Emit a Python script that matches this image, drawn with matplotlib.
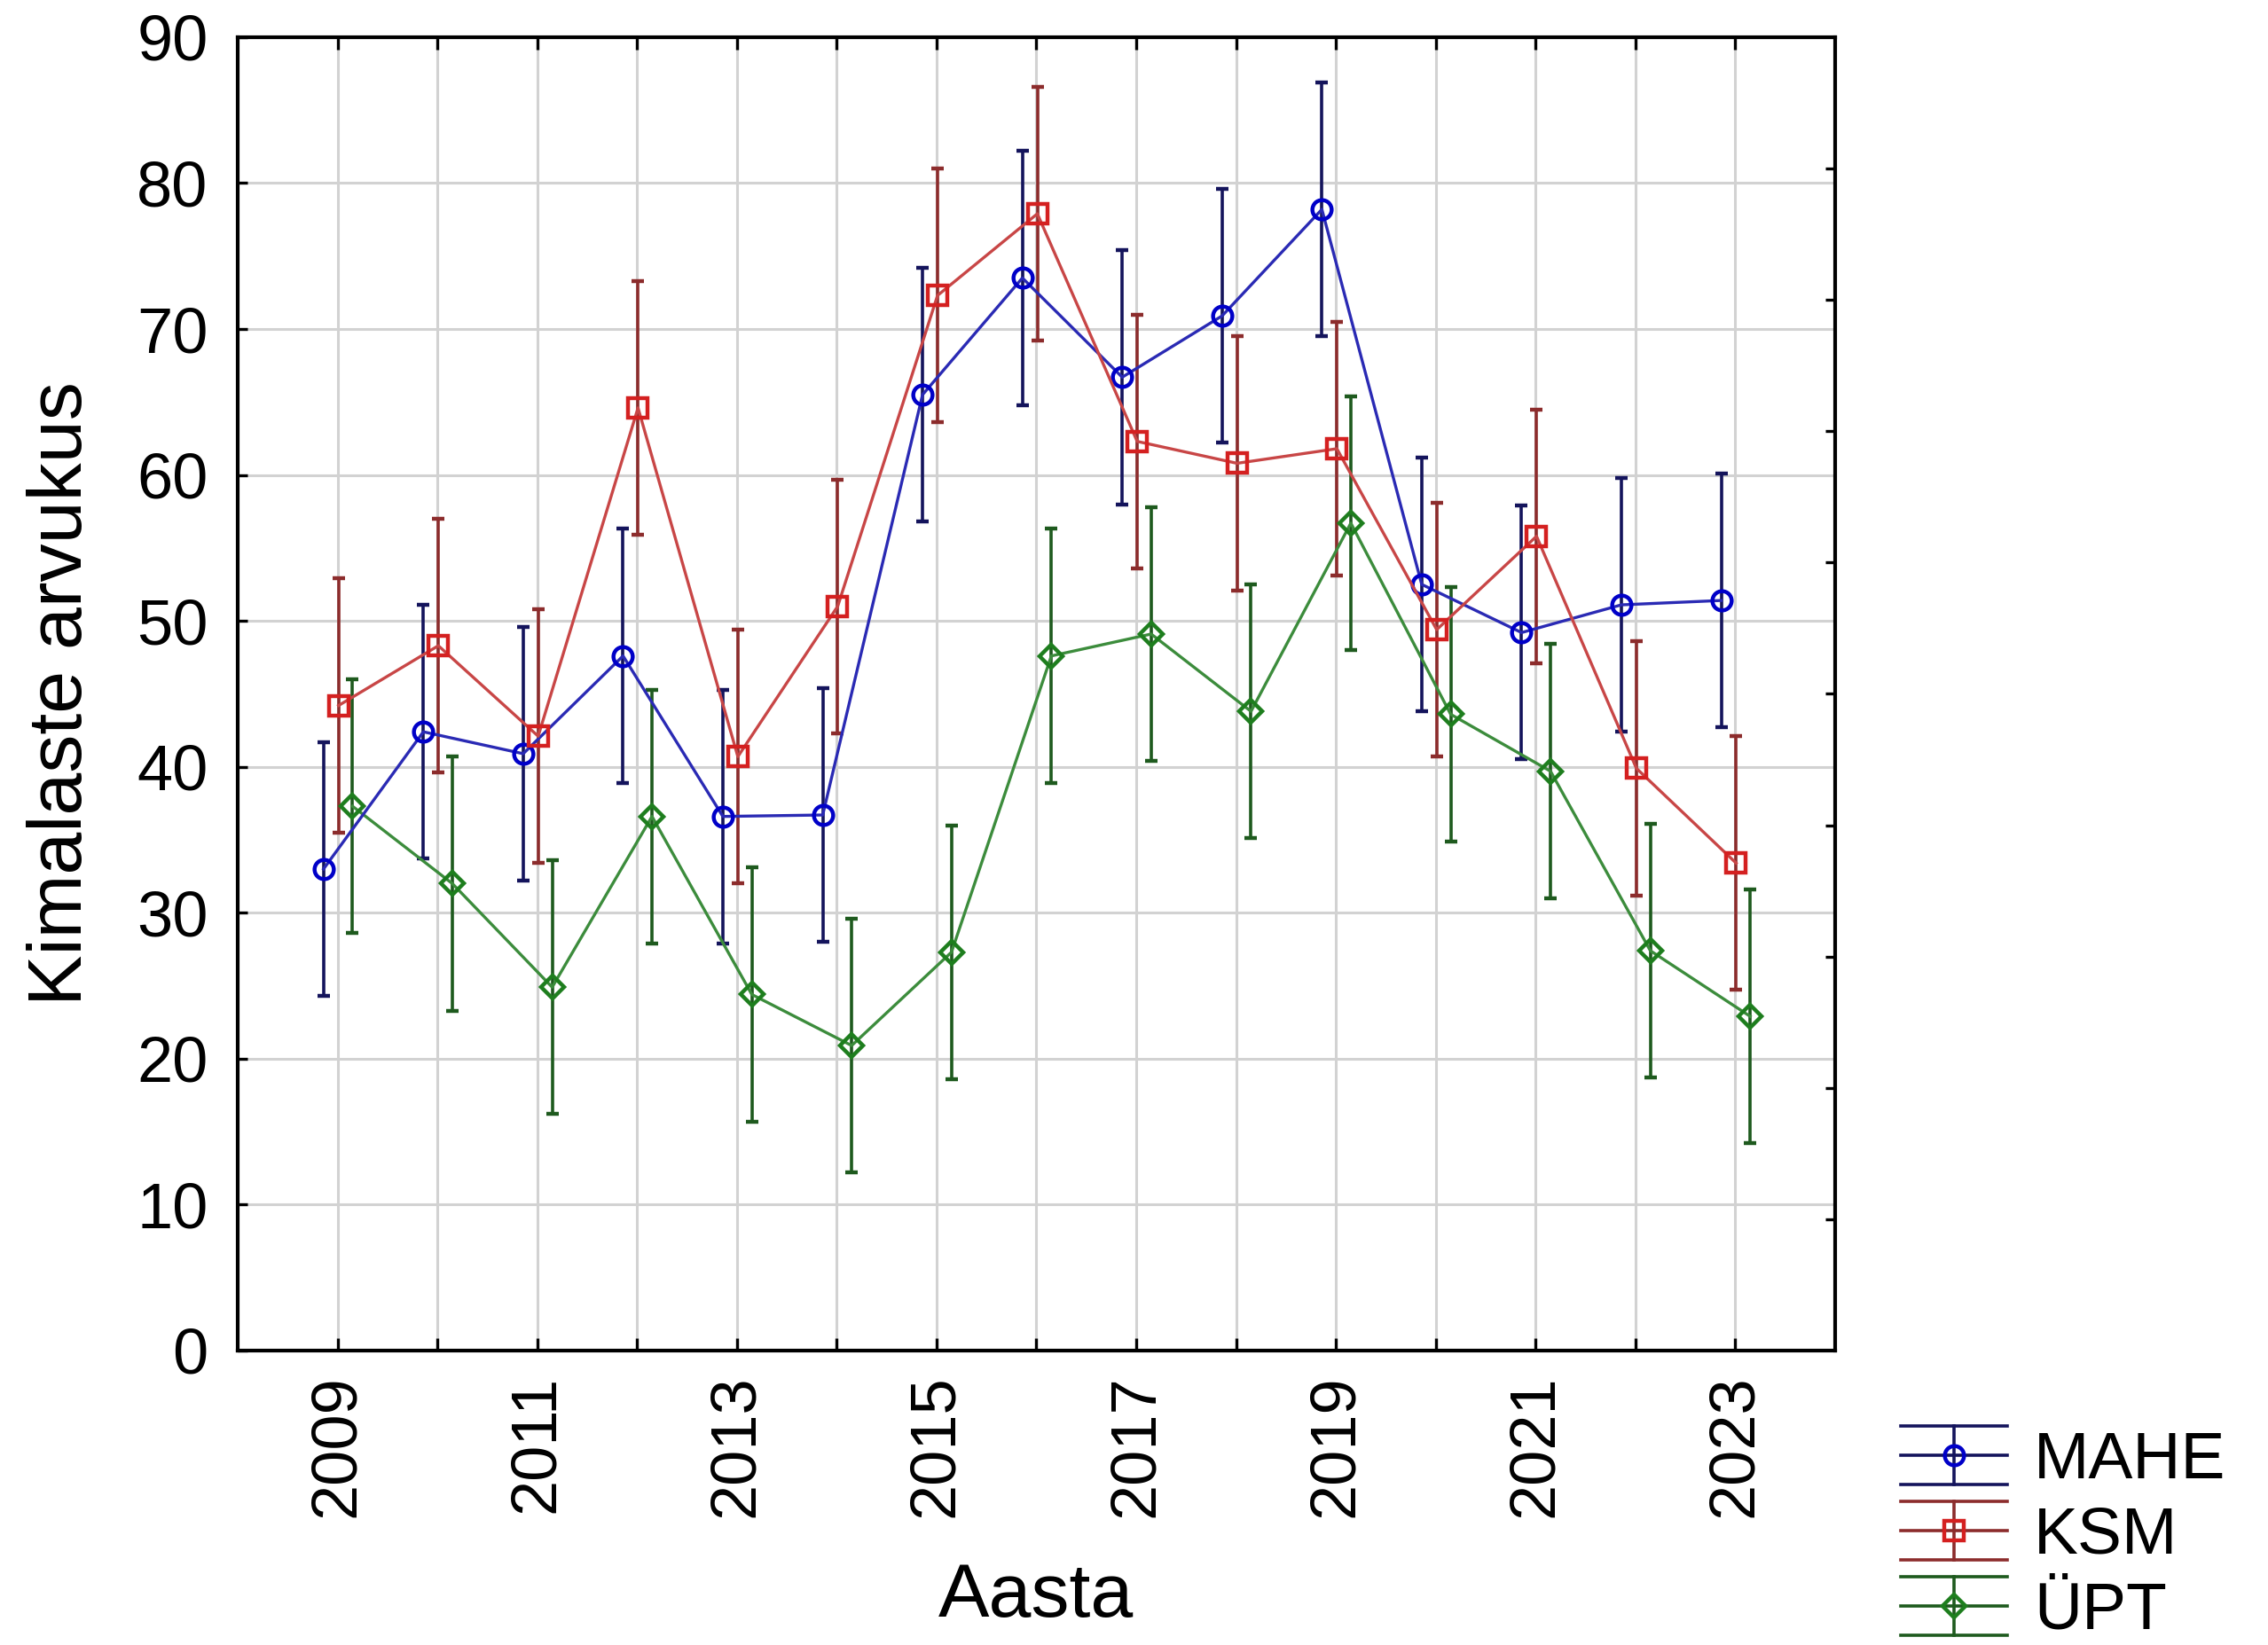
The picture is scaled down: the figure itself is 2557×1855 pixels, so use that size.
import numpy as np
import matplotlib
matplotlib.use("Agg")
import matplotlib.pyplot as plt
from matplotlib.lines import Line2D
from matplotlib.legend_handler import HandlerBase

plt.rcParams['font.family'] = ['Liberation Sans', 'DejaVu Sans']

# --- andmed (loetud jooniselt) ---
years = np.arange(2009, 2024)
groups = ['MAHE', 'KSM', 'ÜPT']

mahe_mean = [33.0, 42.4, 40.9, 47.6, 36.6, 36.7, 65.5, 73.5, 66.7, 70.9, 78.2, 52.5, 49.2, 51.1, 51.4]
ksm_mean = [44.2, 48.3, 42.1, 64.6, 40.7, 51.0, 72.3, 77.9, 62.3, 60.8, 61.8, 49.4, 55.8, 39.9, 33.4]
upt_mean = [37.3, 32.0, 24.9, 36.6, 24.4, 20.9, 27.3, 47.6, 49.1, 43.8, 56.7, 43.6, 39.7, 27.4, 22.9]

mahe_err = [8.7] * 15
ksm_err = [8.7] * 15
upt_err = [8.7] * 15

# stiil: (joon, marker, vearibad, marker-tüüp, nihe)
styles = {
    'MAHE': dict(line='#2a2ab4', mk='#0000c8', err='#14145c', marker='o', ms=7.8, off=-0.14),
    'KSM': dict(line='#c84646', mk='#d42020', err='#8c2c2c', marker='s', ms=8.0, off=0.01),
    'ÜPT': dict(line='#3c8c3c', mk='#1e7e1e', err='#1e5a1e', marker='D', ms=6.4, off=0.15),
}
series = {'MAHE': (mahe_mean, mahe_err), 'KSM': (ksm_mean, ksm_err), 'ÜPT': (upt_mean, upt_err)}

fig = plt.figure(figsize=(12.785, 9.275), dpi=200)
ax = fig.add_axes([0.1048, 0.179, 0.7043, 0.7984])

for name in ['ÜPT', 'MAHE', 'KSM']:
    st = styles[name]
    m, e = series[name]
    ax.errorbar(years + st['off'], m, yerr=e, color=st['line'], lw=1.2,
                marker=st['marker'], ms=st['ms'], mfc='none', mec=st['mk'], mew=1.6,
                ecolor=st['err'], elinewidth=1.3, capsize=2.4, capthick=1.3, zorder=3)

ax.set_xlim(2008, 2024)
ax.set_ylim(0, 90)
ax.set_xticks(years)
ax.set_xticklabels([str(y) if y % 2 == 1 else '' for y in years], rotation=90)
ax.set_yticks(np.arange(0, 91, 10))
ax.grid(True, color='#d2d2d2', lw=1.1, zorder=0)
ax.set_axisbelow(True)
ax.tick_params(axis='x', direction='in', length=5, width=1.2, top=True, labelsize=26, pad=10)
ax.tick_params(axis='y', direction='in', length=4, width=1.2, labelsize=26, pad=12)
for sp in ax.spines.values():
    sp.set_linewidth(1.5)

ax2 = ax.twinx()
ax2.set_ylim(0, 90)
ax2.set_yticks(np.arange(9, 90, 9))
ax2.tick_params(axis='y', direction='in', length=4, width=1.2, labelright=False)

ax.set_xlabel('Aasta', fontsize=31, labelpad=18)
ax.set_ylabel('Kimalaste arvukus', fontsize=31, labelpad=16)


# legendi võtmed: vearibaga sümbol
class Key:
    def __init__(self, name):
        self.name = name


class KeyHandler(HandlerBase):
    def create_artists(self, legend, orig_handle, xdescent, ydescent, width, height, fontsize, trans):
        st = styles[orig_handle.name]
        x0, x1 = -xdescent, -xdescent + width
        xm = (x0 + x1) / 2
        ym = -ydescent + height / 2
        h = 0.44 * fontsize
        arts = []
        for y in (ym - h, ym, ym + h):
            arts.append(Line2D([x0, x1], [y, y], color=st['err'], lw=1.3, transform=trans))
        arts.append(Line2D([xm, xm], [ym - h, ym + h], color=st['err'], lw=1.3, transform=trans))
        arts.append(Line2D([xm], [ym], marker=st['marker'], ms=st['ms'], mfc='none',
                           mec=st['mk'], mew=1.6, transform=trans))
        return arts


keys = [Key(g) for g in groups]
fig.legend(keys, groups, handler_map={Key: KeyHandler()}, loc='upper left',
           bbox_to_anchor=(0.838, 0.132), frameon=False, fontsize=27,
           handlelength=1.6, handleheight=0.9, handletextpad=0.4,
           labelspacing=0.17, borderpad=0, borderaxespad=0)

fig.savefig('out.png', dpi=200)
